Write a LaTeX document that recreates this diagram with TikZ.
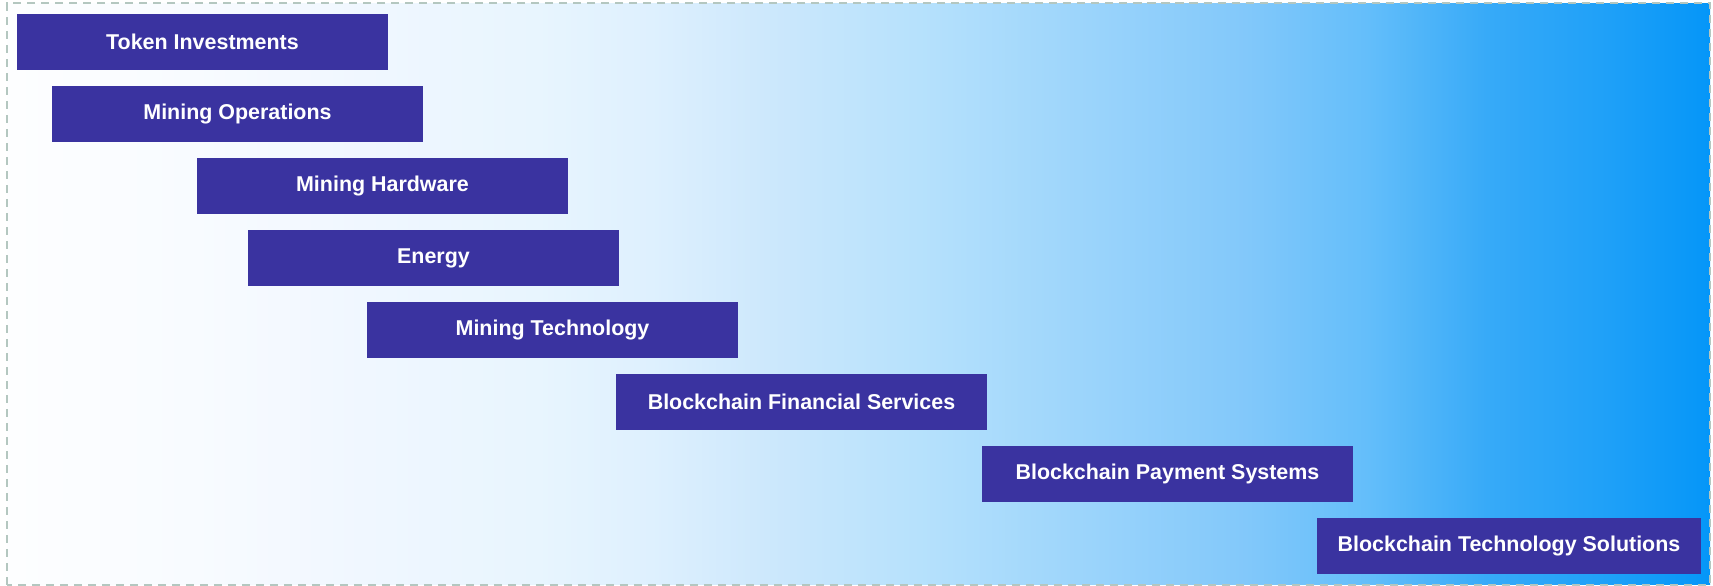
\documentclass[tikz,border=0pt]{standalone}
\usepackage{fontspec}
\setmainfont{Liberation Sans}
\usepackage{xcolor}
\definecolor{barindigo}{RGB}{58,51,160}
\definecolor{frameline}{RGB}{180,199,192}
\definecolor{sky0}{RGB}{253,254,255}
\definecolor{sky1}{RGB}{248,251,255}
\definecolor{sky2}{RGB}{240,247,255}
\definecolor{sky3}{RGB}{232,245,254}
\definecolor{sky4}{RGB}{222,240,254}
\definecolor{sky5}{RGB}{205,232,252}
\definecolor{sky6}{RGB}{182,225,252}
\definecolor{sky7}{RGB}{130,200,250}
\definecolor{sky8}{RGB}{100,190,250}
\definecolor{sky9}{RGB}{55,170,248}
\definecolor{sky10}{RGB}{30,160,248}
\definecolor{sky11}{RGB}{5,150,248}
\usepackage{tikz}
\pgfdeclarehorizontalshading{skyfade}{100bp}{color(0bp)=(sky0); color(25bp)=(sky0); color(30.45bp)=(sky1); color(35.5bp)=(sky2); color(40.55bp)=(sky3); color(43.9bp)=(sky4); color(47.3bp)=(sky5); color(51.8bp)=(sky6); color(61.35bp)=(sky7); color(64.9bp)=(sky8); color(68.45bp)=(sky9); color(72.05bp)=(sky10); color(75bp)=(sky11); color(100bp)=(sky11)}

\begin{document}
\begin{tikzpicture}[
  bar/.style={fill=barindigo, text=white, font=\fontsize{12.2}{14}\selectfont\bfseries, minimum width=7.42cm, minimum height=1.12cm, inner sep=0pt, inner xsep=0.41cm}
]
  \useasboundingbox (0,0) rectangle (34.26,11.72);

  % Background panel
  \path[shading=skyfade] (0.14,0.02) rectangle (34.20,11.65);
  \draw[frameline, line width=0.04cm, dash pattern=on 0.16cm off 0.12cm] (0.14,0.02) rectangle (34.20,11.65);

  % Sector bars, stepping down to the right
  \node[bar] (b1) at (4.05,10.88) {Token Investments};
  \node[bar] (b2) at (4.75,9.44) {Mining Operations};
  \node[bar] (b3) at (7.65,8.00) {Mining Hardware};
  \node[bar] (b4) at (8.67,6.56) {Energy};
  \node[bar] (b5) at (11.05,5.12) {Mining Technology};
  \node[bar] (b6) at (16.03,3.68) {Blockchain Financial Services};
  \node[bar] (b7) at (23.35,2.24) {Blockchain Payment Systems};
  \node[bar] (b8) at (30.18,0.80) {Blockchain Technology Solutions};
\end{tikzpicture}
\end{document}
